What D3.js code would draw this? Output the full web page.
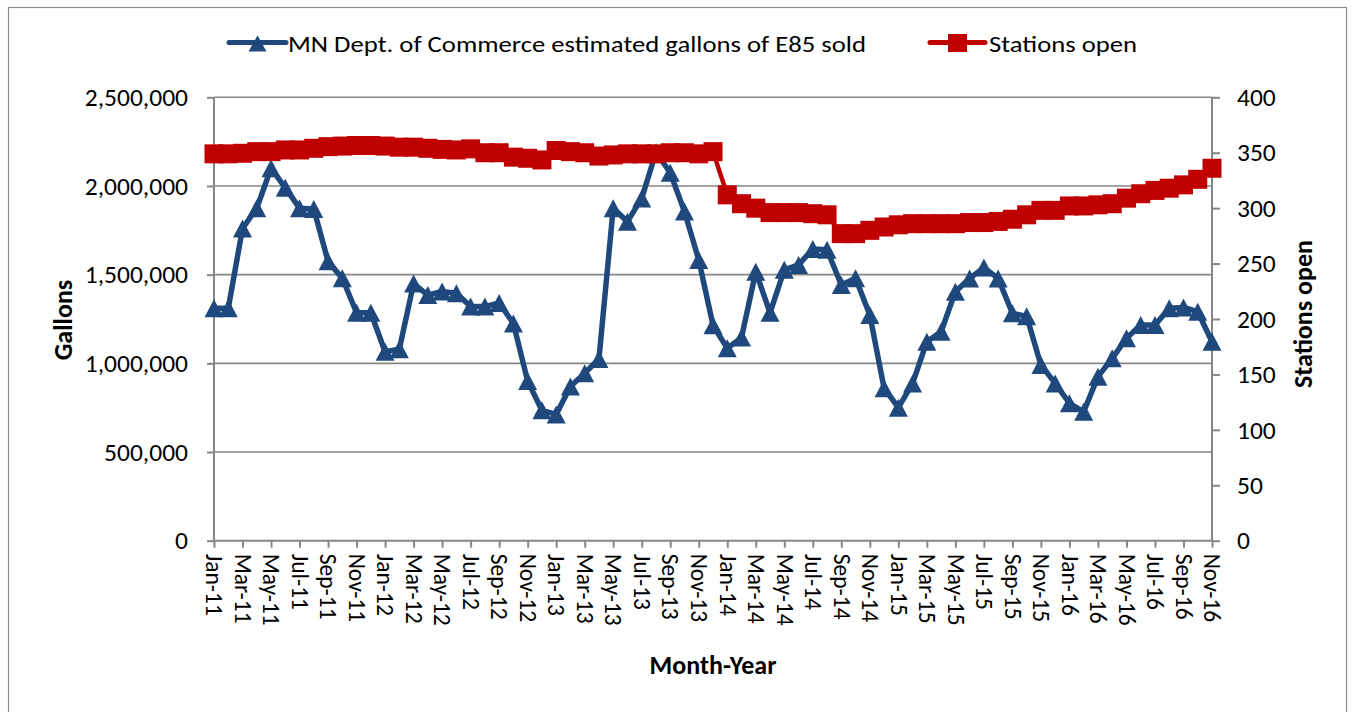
<!DOCTYPE html>
<html>
<head>
<meta charset="utf-8">
<script src="https://cdn.jsdelivr.net/npm/d3@7"></script>
<style>
  body { margin: 0; background: #fff; }
  svg text { font-family: Carlito, Calibri, Lato, sans-serif; fill: #000; }
</style>
</head>
<body>
<svg id="chart" width="1353" height="712"></svg>
<script>
;(function () {

  'use strict';

  // month labels Jan-11 .. Nov-16
  var monthNames = ['Jan', 'Feb', 'Mar', 'Apr', 'May', 'Jun', 'Jul', 'Aug', 'Sep', 'Oct', 'Nov', 'Dec'];
  var years = ['11', '12', '13', '14', '15', '16'];
  var months = [];
  years.forEach(function (y) {
    monthNames.forEach(function (m) { months.push(m + '-' + y); });
  });
  months = months.slice(0, 71);

  var gallons = [
    1310000, 1310000, 1760000, 1875000, 2100000, 1990000, 1875000, 1870000, 1575000, 1480000, 1285000, 1285000,
    1065000, 1080000, 1450000, 1385000, 1405000, 1395000, 1320000, 1320000, 1340000, 1225000, 900000, 735000,
    712000, 869000, 944000, 1025000, 1874000, 1799000, 1930000, 2190000, 2075000, 1856000, 1583000, 1215000,
    1085000, 1145000, 1517000, 1285000, 1527000, 1555000, 1645000, 1640000, 1442000, 1480000, 1273000, 860000,
    750000, 887000, 1122000, 1178000, 1404000, 1479000, 1540000, 1479000, 1282000, 1265000, 991000, 887000,
    775000, 727000, 925000, 1028000, 1141000, 1216000, 1216000, 1310000, 1315000, 1291000, 1122000
  ];

  var stations = [
    349, 349, 349.5, 351, 351, 352.5, 352.5, 354, 355.5, 356, 356.5, 356.5,
    356, 355, 355, 354, 353, 352.5, 353.5, 350, 350, 346, 345, 343.5,
    352, 351, 350, 347, 348, 349, 349, 349, 350, 350, 349, 351,
    312, 304, 300, 296, 296, 296, 295, 294, 277, 277, 280, 283,
    285, 286, 286, 286, 286, 287, 287, 288, 290, 294, 298, 298,
    302, 302, 303, 304, 309, 313, 316, 318, 321, 326, 336
  ];

  var gallonTicks = [0, 500000, 1000000, 1500000, 2000000, 2500000];
  var stationTicks = [0, 50, 100, 150, 200, 250, 300, 350, 400];

  var seriesNames = ['MN Dept. of Commerce estimated gallons of E85 sold', 'Stations open'];
  var blue = '#1f497d', red = '#c00000', grey = '#868686';

  var left = 214, right = 1212, top = 97.3, bottom = 540.7;

  var svg = d3.select('#chart');

  svg.append('rect')
    .attr('x', 8.5).attr('y', 7.5)
    .attr('width', 1338).attr('height', 730)
    .attr('fill', '#fff').attr('stroke', '#8c8c8c').attr('stroke-width', 1.2);

  var x = d3.scalePoint().domain(months).range([left, right]);
  var yL = d3.scaleLinear().domain([0, 2500000]).range([bottom, top]);
  var yR = d3.scaleLinear().domain([0, 400]).range([bottom, top]);

  // gridlines
  svg.append('g').selectAll('line').data(gallonTicks.slice(1)).enter().append('line')
    .attr('x1', left).attr('x2', right)
    .attr('y1', function (d) { return yL(d); }).attr('y2', function (d) { return yL(d); })
    .attr('stroke', grey).attr('stroke-width', 1.6);

  var fmt = d3.format(',');

  var axL = svg.append('g')
    .attr('transform', 'translate(' + left + ',0)')
    .call(d3.axisLeft(yL).tickValues(gallonTicks).tickFormat(fmt).tickSize(7).tickPadding(19));

  var axR = svg.append('g')
    .attr('transform', 'translate(' + right + ',0)')
    .call(d3.axisRight(yR).tickValues(stationTicks).tickSize(8).tickPadding(17));

  var axB = svg.append('g')
    .attr('transform', 'translate(0,' + bottom + ')')
    .call(d3.axisBottom(x).tickValues(months.filter(function (d, i) { return i % 2 === 0; })).tickSize(7));

  [axL, axR, axB].forEach(function (g) {
    g.selectAll('path.domain').attr('stroke', grey).attr('stroke-width', 2);
    g.selectAll('.tick line').attr('stroke', grey).attr('stroke-width', 2);
    g.selectAll('.tick text').style('font-size', '25.5px').attr('fill', '#000');
  });
  axL.select('path.domain').attr('d', 'M' + 0 + ',' + bottom + 'V' + top);
  axR.select('path.domain').attr('d', 'M' + 0 + ',' + bottom + 'V' + top);
  axB.select('path.domain').attr('d', 'M' + left + ',0H' + right);

  axB.selectAll('.tick text')
    .attr('transform', 'rotate(90)')
    .attr('text-anchor', 'start')
    .attr('dy', '0.35em')
    .attr('x', 13)
    .attr('y', 0)
    .style('font-size', '23.5px');

  // titles
  svg.append('text')
    .attr('transform', 'translate(72,320) rotate(-90)')
    .attr('text-anchor', 'middle')
    .style('font-size', '26px').style('font-weight', 'bold')
    .text('Gallons');

  svg.append('text')
    .attr('transform', 'translate(1312,314) rotate(-90)')
    .attr('text-anchor', 'middle')
    .style('font-size', '26px').style('font-weight', 'bold')
    .text('Stations open');

  svg.append('text')
    .attr('x', 713).attr('y', 674)
    .attr('text-anchor', 'middle')
    .style('font-size', '26px').style('font-weight', 'bold')
    .text('Month-Year');

  // series
  var triangle = function (w, h) {
    return 'M0,' + (-h / 2) + 'L' + (w / 2) + ',' + (h / 2) + 'L' + (-w / 2) + ',' + (h / 2) + 'Z';
  };

  var lineL = d3.line()
    .x(function (d, i) { return x(months[i]); })
    .y(function (d) { return yL(d); });

  var lineR = d3.line()
    .x(function (d, i) { return x(months[i]); })
    .y(function (d) { return yR(d); });

  svg.append('path').datum(gallons)
    .attr('d', lineL).attr('fill', 'none')
    .attr('stroke', blue).attr('stroke-width', 5.5).attr('stroke-linejoin', 'round');

  svg.append('g').selectAll('path').data(gallons).enter().append('path')
    .attr('d', triangle(19, 18))
    .attr('transform', function (d, i) { return 'translate(' + x(months[i]) + ',' + yL(d) + ')'; })
    .attr('fill', blue);

  svg.append('path').datum(stations)
    .attr('d', lineR).attr('fill', 'none')
    .attr('stroke', red).attr('stroke-width', 4.5).attr('stroke-linejoin', 'round');

  svg.append('g').selectAll('rect').data(stations).enter().append('rect')
    .attr('x', function (d, i) { return x(months[i]) - 9.5; })
    .attr('y', function (d) { return yR(d) - 9.5; })
    .attr('width', 19).attr('height', 19)
    .attr('fill', red);

  // legend
  var legend = svg.append('g');
  legend.append('line').attr('x1', 229).attr('x2', 286).attr('y1', 42.5).attr('y2', 42.5)
    .attr('stroke', blue).attr('stroke-width', 5).attr('stroke-linecap', 'round');
  legend.append('path').attr('d', triangle(18, 16)).attr('transform', 'translate(257.5,43.5)').attr('fill', blue);
  legend.append('text').attr('x', 288).attr('y', 52)
    .style('font-size', '23px')
    .attr('textLength', 578).attr('lengthAdjust', 'spacingAndGlyphs')
    .text(seriesNames[0]);

  legend.append('line').attr('x1', 930).attr('x2', 985).attr('y1', 42.5).attr('y2', 42.5)
    .attr('stroke', red).attr('stroke-width', 5).attr('stroke-linecap', 'round');
  legend.append('rect').attr('x', 948).attr('y', 34).attr('width', 19).attr('height', 18).attr('fill', red);
  legend.append('text').attr('x', 989).attr('y', 52)
    .style('font-size', '23px')
    .attr('textLength', 148).attr('lengthAdjust', 'spacingAndGlyphs')
    .text(seriesNames[1]);

})();
</script>
</body>
</html>
